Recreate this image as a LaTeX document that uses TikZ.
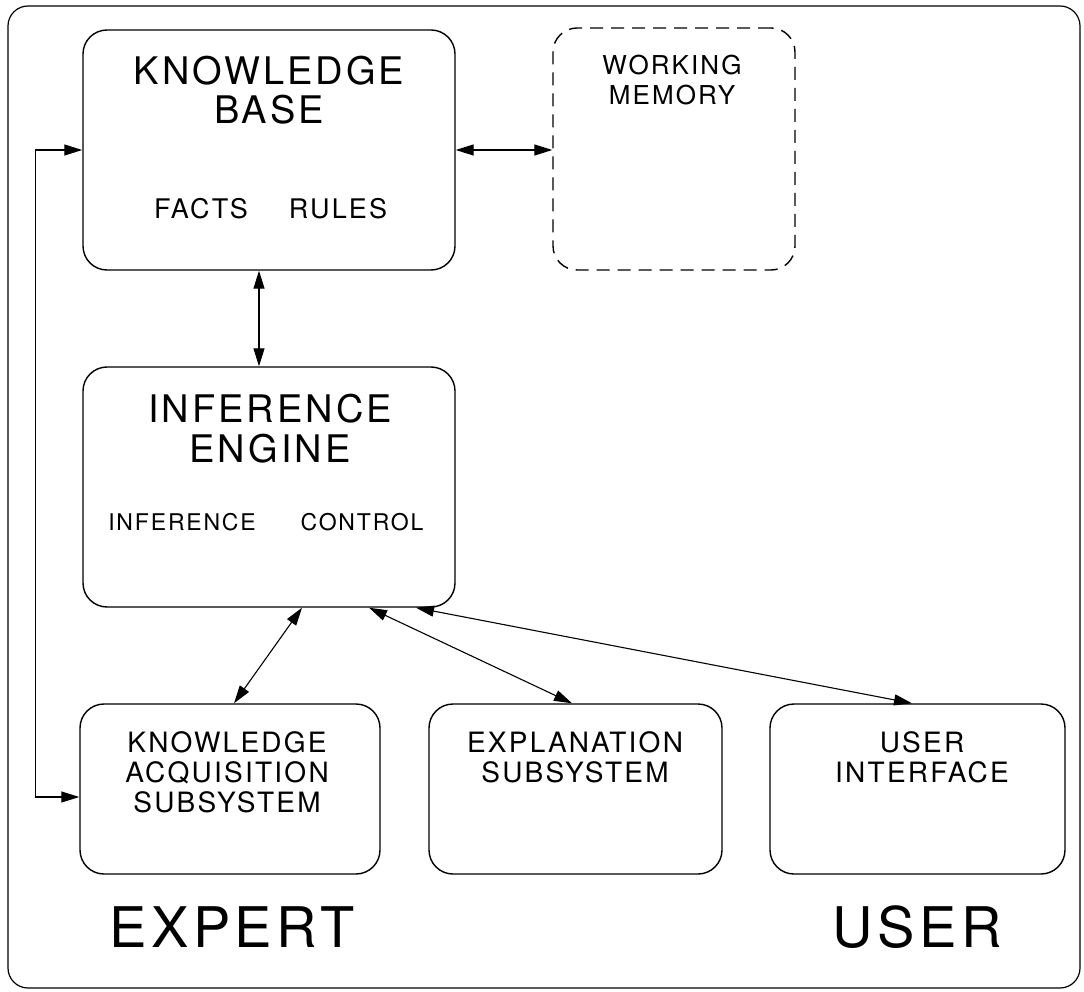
\documentclass[tikz,border=0pt]{standalone}
\usepackage{fontspec}
\setmainfont{TeX Gyre Heros}[LetterSpace=8]
\usetikzlibrary{arrows.meta}
\begin{document}
\begin{tikzpicture}[x=1pt,y=-1pt,
  frame/.style={draw, line width=1.2pt, rounded corners=20pt},
  box/.style={draw, line width=1.4pt, rounded corners=24pt, inner sep=0pt},
  dashbox/.style={box, dash pattern=on 13pt off 8pt},
  title/.style={anchor=base, font=\fontsize{38}{42}\selectfont},
  sub/.style={anchor=base, font=\fontsize{27}{30}\selectfont},
  wmtext/.style={anchor=base, font=\fontsize{26}{29}\selectfont},
  ietext/.style={anchor=base, font=\fontsize{23}{26}\selectfont},
  small/.style={anchor=base, font=\fontsize{28}{30}\selectfont},
  big/.style={anchor=base, font=\fontsize{56}{60}\selectfont},
  arr/.style={line width=1.1pt, {Triangle[length=18pt,width=11pt]}-{Triangle[length=18pt,width=11pt]}}
]
\useasboundingbox (0,0) rectangle (1084,992);
% outer frame
\draw[frame] (8,6) rectangle (1080,988);

% boxes
\node[box, minimum width=372pt, minimum height=240pt] (kb) at (269,150) {};
\node[dashbox, minimum width=242pt, minimum height=242pt] (wm) at (674,149) {};
\node[box, minimum width=372pt, minimum height=240pt] (ie) at (269,487) {};
\node[box, minimum width=300pt, minimum height=170pt] (kas) at (230,789) {};
\node[box, minimum width=293pt, minimum height=170pt] (ex) at (575.5,789) {};
\node[box, minimum width=295pt, minimum height=170pt] (ui) at (917.5,789) {};

% knowledge base
\node[title] (kb1) at (269,85) {KNOWLEDGE};
\node[title] (kb2) at (269,124) {BASE};
\node[sub] (kbf) at (201,219) {FACTS};
\node[sub] (kbr) at (338,219) {RULES};

% working memory
\node[wmtext] (wm1) at (672,75) {WORKING};
\node[wmtext] (wm2) at (672,105) {MEMORY};

% inference engine
\node[title] (ie1) at (270,422) {INFERENCE};
\node[title] (ie2) at (270,462) {ENGINE};
\node[ietext] (iei) at (182,530) {INFERENCE};
\node[ietext] (iec) at (362,530) {CONTROL};

% lower subsystems
\node[small] (kas1) at (227,752) {KNOWLEDGE};
\node[small] (kas2) at (227,782) {ACQUISITION};
\node[small] (kas3) at (227,812) {SUBSYSTEM};
\node[small] (ex1) at (575,752) {EXPLANATION};
\node[small] (ex2) at (575,782) {SUBSYSTEM};
\node[small] (ui1) at (922,752) {USER};
\node[small] (ui2) at (922,782) {INTERFACE};

% roles
\node[big] (expert) at (232,947) {EXPERT};
\node[big] (user) at (917,947) {USER};

% connectors
\draw[arr] (kb.east) -- (kb.east -| wm.west);
\draw[arr] ([xshift=-10pt]kb.south) -- ([xshift=-10pt]ie.north);
\draw[arr] (kb.west) -- ++(-47,0) |- ([yshift=-8pt]kas.west);
\draw[arr] ([xshift=33pt]ie.south) -- ([xshift=4pt]kas.north);
\draw[arr] ([xshift=100pt]ie.south) -- ([xshift=-3.5pt]ex.north);
\draw[arr] ([xshift=147pt]ie.south) -- ([xshift=-5.5pt]ui.north);
\end{tikzpicture}
\end{document}
